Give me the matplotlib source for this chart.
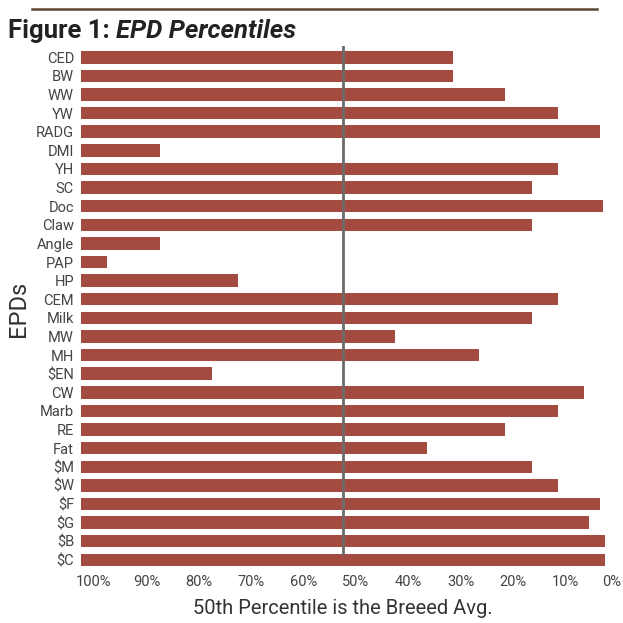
import numpy as np
import matplotlib
matplotlib.use("Agg")
import matplotlib.pyplot as plt
import matplotlib.transforms as mtransforms
from matplotlib.lines import Line2D

# EPD traits, top to bottom
epds = ["CED", "BW", "WW", "YW", "RADG", "DMI", "YH", "SC", "Doc", "Claw",
        "Angle", "PAP", "HP", "CEM", "Milk", "MW", "MH", "$EN", "CW", "Marb",
        "RE", "Fat", "$M", "$W", "$F", "$G", "$B", "$C"]

# percentile rank of each EPD (lower is better)
percentiles = [29, 29, 19, 9, 1, 85, 9, 14, 0.3, 14,
               85, 95, 70, 9, 14, 40, 24, 75, 4, 9,
               19, 34, 14, 9, 1, 3, 0, 0]

tick_values = [100, 90, 80, 70, 60, 50, 40, 30, 20, 10, 0]
tick_labels = ["100%", "90%", "80%", "70%", "60%", "50%", "40%", "30%", "20%", "10%", "0%"]
breed_avg = 50

bar_color = "#A34B40"
text_color = "#444444"

plt.rcParams['font.family'] = ['Roboto', 'DejaVu Sans']

fig = plt.figure(figsize=(6.23, 6.23), dpi=100)
ax = fig.add_axes([0.130, 0.0835, 0.841, 0.8425])

y = np.arange(len(epds))
# bars grow from 100% towards each percentile (axis is reversed)
ax.barh(y, np.array(percentiles) - 100, left=100, height=0.67, color=bar_color)

ax.axvline(breed_avg, ymin=0.033, ymax=1, color="#6b6b6b", lw=2, zorder=3)

ax.set_xlim(100, 0)
ax.set_ylim(len(epds) - 0.4, -0.6)
ax.set_yticks(y)
ax.set_yticklabels(epds, fontsize=10.5, color=text_color)
ax.set_xticks(tick_values)
ax.set_xticklabels(tick_labels, fontsize=10.5, color=text_color)
ax.tick_params(axis="both", length=0)
ax.tick_params(axis="y", pad=5)
ax.tick_params(axis="x", pad=3)

# tick labels sit a little right of the tick positions
labels = ax.get_xticklabels()
for i, lbl in enumerate(labels):
    dx = 7 if i == len(labels) - 1 else 13
    shift = mtransforms.ScaledTranslation(dx / 100, 0, fig.dpi_scale_trans)
    lbl.set_transform(lbl.get_transform() + shift)

for s in ax.spines.values():
    s.set_visible(False)

ax.set_xlabel("50th Percentile is the Breeed Avg.", fontsize=14.5, color="#333333", labelpad=7)
ax.set_ylabel("EPDs", fontsize=17, color="#333333", labelpad=4)

# header rule and title
fig.add_artist(Line2D([0.052, 0.958], [0.986, 0.986], color="#5b4636", lw=1.8))
t1 = fig.text(0.013, 0.950, "Figure 1: ", fontsize=18.5, fontweight="bold",
              color="#222222", va="center")
ax.annotate("EPD Percentiles", xy=(1, 0), xycoords=t1, va="bottom", ha="left",
            fontsize=18.5, fontweight="bold", style="italic",
            color="#222222", annotation_clip=False)

fig.savefig("out.png", dpi=100)
